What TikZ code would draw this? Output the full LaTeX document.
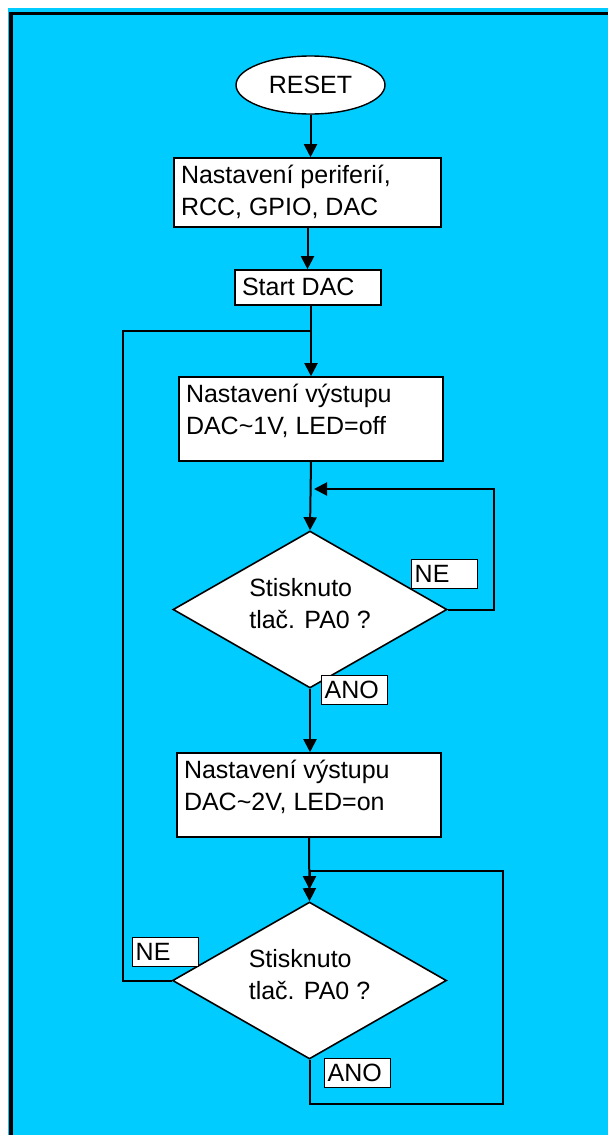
\documentclass[tikz,border=0pt]{standalone}
\usepackage{fontspec}
\setmainfont{Liberation Sans}
\usetikzlibrary{shapes.geometric,arrows.meta}
\definecolor{bg}{HTML}{00CCFF}
\newcommand{\blk}[3]{\parbox[c][#2][t]{#1}{\raggedright\vspace*{3pt}\strut #3}}
\begin{document}
\begin{tikzpicture}[x=1pt,y=-1pt, font=\fontsize{25}{32}\selectfont,
 box/.style={draw=black, fill=white, line width=1.6pt, rectangle, inner xsep=7pt, inner ysep=0pt},
 tag/.style={draw=black, fill=white, line width=1.4pt, rectangle, inner xsep=3pt, inner ysep=0pt, minimum height=29pt, text width=60pt, align=left, anchor=north west},
 dec/.style={draw=black, fill=white, diamond, line width=1.6pt, aspect=1.745, minimum width=274pt, minimum height=157pt, inner sep=0pt, align=left},
 conn/.style={line width=2pt},
 arr/.style={conn, -{Triangle[width=13pt,length=13pt]}}
]
\useasboundingbox (0,0) rectangle (608,1135);
% background
\fill[white] (0,0) rectangle (608,1135);
\fill[bg] (8,8) rectangle (608,1135);
\draw[line width=3.5pt] (11,1135) |- (608,13.25);

% nodes
\node[draw=black, fill=white, ellipse, line width=1.4pt, minimum width=149pt, minimum height=58pt, inner sep=0pt] (reset) at (310.5,85) {RESET};
\node[box] (b1) at (307.5,192.5) {\blk{253pt}{69pt}{Nastavení periferií,\\RCC, GPIO, DAC}};
\node[box] (st) at (308,287.5) {\blk{132pt}{35pt}{Start DAC}};
\node[box] (b2) at (311,419) {\blk{250pt}{84pt}{Nastavení výstupu\\DAC\textasciitilde 1V, LED=off}};
\node[dec] (d1) at (310,609.5) {Stisknuto\\tlač. PA0 ?\rule[-13pt]{0pt}{13pt}};
\node[box] (b3) at (309,795) {\blk{250pt}{84pt}{Nastavení výstupu\\DAC\textasciitilde 2V, LED=on}};
\node[dec] (d2) at (309.5,980.5) {Stisknuto\\tlač. PA0 ?\rule[-13pt]{0pt}{13pt}};

\coordinate (j1) at (311,331);
\coordinate (j2) at (314,489);

% connectors
\draw[arr] (reset.south) -- (reset.south |- b1.north);
\draw[arr] (b1.south) -- (b1.south |- st.north);
\draw[arr] (st.south -| b2.north) -- (b2.north);
\draw[arr] (b2.south) -- (d1.north);
\draw[arr] (d1.east) -- ++(46,0) |- (j2);
\draw[arr] (d1.south) -- (d1.south |- b3.north);
\draw[arr] (b3.south) -- (d2.north);
\draw[conn] (d2.west) -- ++(-49,0) |- (j1);
\draw[arr, shorten >=12pt] (d2.south) -- ++(0,44) -| (503,871) -| (d2.north);

% tags
\node[tag] (ne1) at (411,559) {NE};
\node[tag] (ano1) at (321,675) {ANO};
\node[tag] (ne2) at (132,937) {NE};
\node[tag] (ano2) at (324,1058) {ANO};
\end{tikzpicture}
\end{document}
